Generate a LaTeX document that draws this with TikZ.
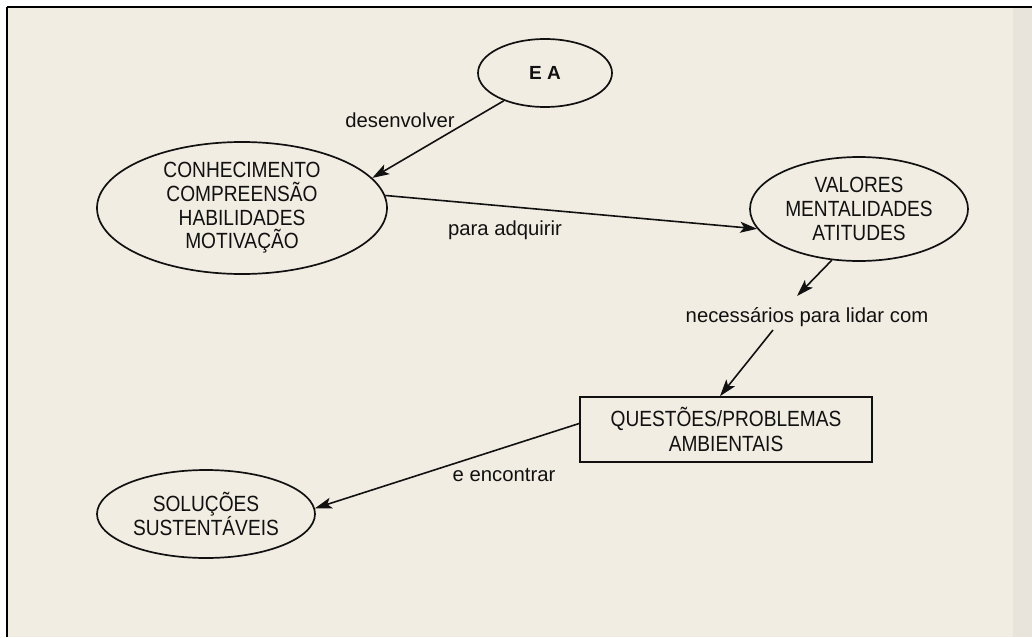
\documentclass[tikz,border=0pt]{standalone}
\usepackage{fontspec}
\setmainfont{Liberation Sans}
\newfontfamily\condsans[FakeStretch=0.87]{Liberation Sans}
\usetikzlibrary{shapes.geometric,arrows.meta}
\definecolor{paper}{HTML}{F2EDE3}
\definecolor{paperedge}{HTML}{E8E4DC}
\definecolor{ink}{HTML}{111111}
\tikzset{
  frameline/.style={line width=2pt, draw=black},
  bubble/.style={ellipse, draw=ink, line width=1.7pt, inner sep=0pt, align=center, text=ink,
    font=\condsans\fontsize{22}{23.6}\selectfont},
  boxnode/.style={rectangle, draw=ink, line width=1.7pt, inner sep=0pt, align=center, text=ink,
    font=\condsans\fontsize{22}{24.5}\selectfont},
  lbl/.style={inner sep=2pt, text=ink, font=\fontsize{20.3}{23}\selectfont},
  conn/.style={draw=ink, line width=1.6pt, -{Stealth[length=17pt,width=11pt,inset=4pt]}}
}
\begin{document}
\begin{tikzpicture}[x=1pt,y=-1pt]
\useasboundingbox (0,0) rectangle (1032,637);
\fill[white] (0,0) rectangle (1032,637);
\fill[paper] (7,7) rectangle (1032,637);
\fill[paperedge] (1013,7) rectangle (1032,637);
\draw[frameline] (7,7) -- (1032,7);
\draw[frameline] (7,7) -- (7,637);

\node[bubble, minimum width=134pt, minimum height=68pt, font=\bfseries\fontsize{19}{22}\selectfont] (ea) at (545,73) {E A};
\node[bubble, minimum width=290pt, minimum height=132pt] (con) at (242,208)
  {CONHECIMENTO\\COMPREENSÃO\\HABILIDADES\\MOTIVAÇÃO};
\node[bubble, minimum width=218pt, minimum height=104pt] (val) at (859,209)
  {VALORES\\MENTALIDADES\\ATITUDES};
\node[boxnode, minimum width=292pt, minimum height=65pt] (q) at (726,429.5)
  {QUESTÕES/PROBLEMAS\\AMBIENTAIS};
\node[bubble, minimum width=218pt, minimum height=88pt] (sol) at (206,514)
  {SOLUÇÕES\\SUSTENTÁVEIS};

\node[lbl] (des) at (400,120) {desenvolver};
\node[lbl] (par) at (505,230) {para adquirir};
\node[lbl] (nec) at (807,317) {necessários para lidar com};
\node[lbl] (enc) at (504,475) {e encontrar};

\draw[conn] (ea.214.6) -- (con.13.6);
\draw[conn] (con.5.9) -- (val.191.1);
\draw[conn] (val.242.5) -- ([shift={(-10,-21)}]nec.center);
\draw[conn] ([shift={(-34,13)}]nec.center) -- ([xshift=-6pt]q.north);
\draw[conn] ([yshift=6pt]q.west) -- (sol.3.5);
\end{tikzpicture}
\end{document}
